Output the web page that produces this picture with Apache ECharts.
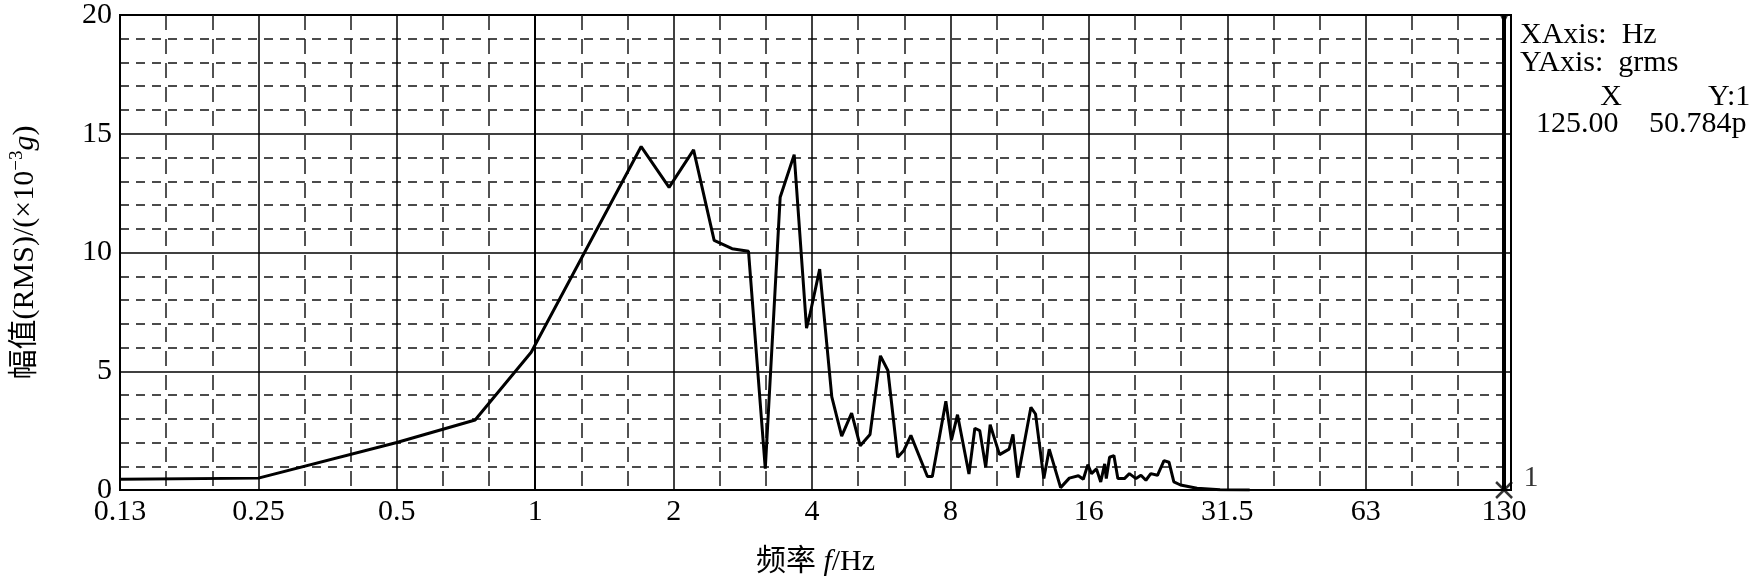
<!DOCTYPE html>
<html>
<head>
<meta charset="utf-8">
<script src="https://cdn.jsdelivr.net/npm/echarts@6/dist/echarts.min.js"></script>
<style>
html,body{margin:0;padding:0;background:#fff;}
#chart{width:1749px;height:582px;}
</style>
</head>
<body>
<div id="chart"></div>
<script>
// ---- data (frequency in Hz, amplitude in 10^-3 g RMS) ----
const freqHz = [0.125, 0.25, 0.5, 0.74, 0.98, 1.70, 1.955, 2.21, 2.45, 2.68, 2.91,
  3.165, 3.41, 3.494, 3.658, 3.891, 3.956, 4.156, 4.416, 4.64, 4.877, 5.091, 5.348,
  5.634, 5.848, 6.143, 6.329, 6.562, 7.129, 7.306, 7.818, 8.039, 8.288, 8.777, 9.04,
  9.266, 9.546, 9.761, 10.23, 10.73, 10.94, 11.21, 11.97, 12.25, 12.77, 13.12, 13.89,
  14.51, 15.18, 15.56, 15.92, 16.21, 16.62, 16.98, 17.32, 17.46, 17.75, 18.14, 18.5,
  19.12, 19.6, 20.26, 20.77, 21.29, 21.82, 22.56, 23.31, 23.9, 24.49, 25.32, 27.5,
  30.87, 35.8];
const amplitude = [0.45, 0.5, 2.0, 2.95, 5.8, 14.46, 12.74, 14.32, 10.51, 10.16, 10.05,
  0.9, 12.33, 12.95, 14.12, 6.82, 7.37, 9.3, 3.92, 2.27, 3.24, 1.86, 2.34,
  5.65, 5.03, 1.38, 1.65, 2.3, 0.57, 0.57, 3.74, 2.1, 3.17, 0.67, 2.6,
  2.5, 0.96, 2.75, 1.49, 1.72, 2.34, 0.52, 3.48, 3.2, 0.48, 1.72, 0.1,
  0.5, 0.6, 0.45, 1.07, 0.69, 0.89, 0.34, 1.1, 0.48, 1.38, 1.45, 0.48,
  0.48, 0.69, 0.48, 0.62, 0.41, 0.69, 0.62, 1.24, 1.17, 0.34, 0.21, 0.07,
  0.01, 0.0];
// octave tick labels (ticks at 0.125, 0.25 ... 128 Hz)
const xTickLabels = ['0.13', '0.25', '0.5', '1', '2', '4', '8', '16', '31.5', '63', '130'];
const yTickValues = [0, 5, 10, 15, 20];
const cursorFreq = 128;
const cursorLabel = '1';
const readoutLines = ['XAxis:  Hz', 'YAxis:  grms'];
const readoutHead = ['X', 'Y:1'];
const readoutVals = ['125.00', '50.784p'];

const FONT = '"Liberation Serif", "Times New Roman", "Noto Sans CJK SC", serif';
const FS = 30;
const seriesData = freqHz.map((f, i) => [Math.log2(f), amplitude[i]]);
const cx = Math.log2(cursorFreq);

const chart = echarts.init(document.getElementById('chart'), null, {renderer: 'canvas'});
chart.setOption({
  animation: false,
  backgroundColor: '#fff',
  grid: {left: 115, right: 238, top: 14, bottom: 84, show: true, borderColor: '#000', borderWidth: 2},
  xAxis: {
    type: 'value', min: -3, max: 7.05, interval: 1,
    name: '{a|频率 }{i|f}{a|/Hz}',
    nameLocation: 'middle', nameGap: 57,
    nameTextStyle: {
      rich: {
        a: {fontFamily: FONT, fontSize: FS, color: '#000'},
        i: {fontFamily: FONT, fontSize: FS, fontStyle: 'italic', color: '#000'}
      }
    },
    axisLine: {show: true, lineStyle: {color: '#000', width: 2}},
    axisTick: {show: false},
    axisLabel: {
      margin: 7, color: '#000', fontFamily: FONT, fontSize: FS,
      showMaxLabel: false,
      formatter: function (v) {
        const k = Math.round(v);
        if (Math.abs(v - k) > 1e-6) return '';
        return xTickLabels[k + 3] || '';
      }
    },
    splitLine: {show: true, lineStyle: {color: '#000', width: 1.5}},
    minorTick: {show: false, splitNumber: 3},
    minorSplitLine: {show: true, lineStyle: {color: '#1a1a1a', width: 1.5, type: [15, 9]}}
  },
  yAxis: {
    type: 'value', min: 0, max: 20, interval: 5,
    name: '{a|幅值(RMS)/(×10}{s|−3}{i|g}{a|)}',
    nameLocation: 'middle', nameGap: 78, nameRotate: 90,
    nameTextStyle: {
      rich: {
        a: {fontFamily: FONT, fontSize: FS, color: '#000'},
        s: {fontFamily: FONT, fontSize: 19, color: '#000', padding: [0, 0, 15, 0]},
        i: {fontFamily: FONT, fontSize: FS, fontStyle: 'italic', color: '#000'}
      }
    },
    axisLine: {show: true, lineStyle: {color: '#000', width: 2}},
    axisTick: {show: false},
    axisLabel: {margin: 8, color: '#000', fontFamily: FONT, fontSize: FS,
      formatter: function (v) { return yTickValues.indexOf(v) >= 0 ? String(v) : ''; }},
    splitLine: {show: true, lineStyle: {color: '#000', width: 1.5}},
    minorTick: {show: false, splitNumber: 5},
    minorSplitLine: {show: true, lineStyle: {color: '#111', width: 1.5, type: [9, 7]}}
  },
  series: [
    {
      type: 'line', data: seriesData, showSymbol: false, symbol: 'none',
      lineStyle: {color: '#000', width: 3}, z: 5,
      markLine: {
        silent: true, symbol: ['none', 'none'],
        lineStyle: {color: '#000', width: 4, type: 'solid'},
        label: {show: false},
        data: [{xAxis: cx}]
      }
    },
    {
      type: 'scatter', data: [[cx, 0]], z: 6,
      symbol: 'path://M0,0L10,10M10,0L0,10', symbolSize: 16,
      itemStyle: {color: 'none', borderColor: '#000', borderWidth: 2.5},
      label: {show: true, position: 'right', offset: [4, -12], formatter: cursorLabel,
        color: '#000', fontFamily: FONT, fontSize: FS}
    },
    {
      type: 'scatter', data: [[cx, 20]], z: 6,
      symbol: 'triangle', symbolRotate: 180, symbolSize: 9, symbolOffset: [0, 4],
      itemStyle: {color: '#000'}
    }
  ],
  graphic: [
    {type: 'text', x: 1520, y: 35, style: {text: readoutLines[0], font: FS + 'px ' + FONT, fill: '#000', verticalAlign: 'middle'}},
    {type: 'text', x: 1520, y: 63, style: {text: readoutLines[1], font: FS + 'px ' + FONT, fill: '#000', verticalAlign: 'middle'}},
    {type: 'text', x: 1611, y: 97, style: {text: readoutHead[0], font: FS + 'px ' + FONT, fill: '#000', align: 'center', verticalAlign: 'middle'}},
    {type: 'text', x: 1708, y: 97, style: {text: readoutHead[1], font: FS + 'px ' + FONT, fill: '#000', verticalAlign: 'middle'}},
    {type: 'text', x: 1536, y: 124, style: {text: readoutVals[0], font: FS + 'px ' + FONT, fill: '#000', verticalAlign: 'middle'}},
    {type: 'text', x: 1649, y: 124, style: {text: readoutVals[1], font: FS + 'px ' + FONT, fill: '#000', verticalAlign: 'middle'}}
  ]
});
</script>
</body>
</html>
